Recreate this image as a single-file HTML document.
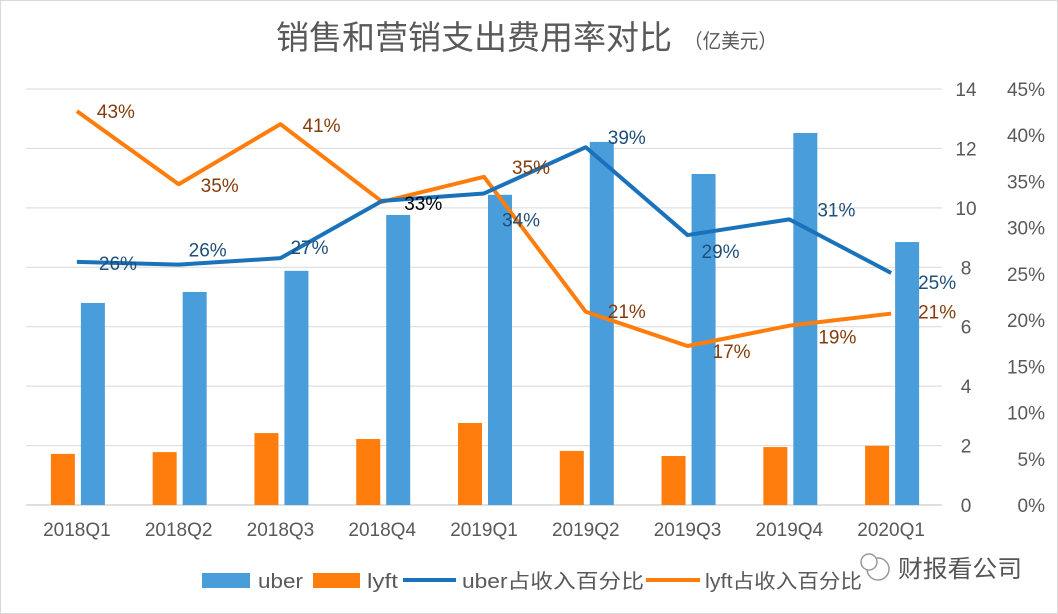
<!DOCTYPE html>
<html><head><meta charset="utf-8">
<style>
body{margin:0;background:#fff;}
svg{display:block;font-family:"Liberation Sans","Noto Sans CJK SC",sans-serif;}
</style></head>
<body>
<svg id="chart" width="1058" height="614" viewBox="0 0 1058 614">
<rect x="0.5" y="0.5" width="1057" height="613" fill="#fff" stroke="#d9d9d9"/>
<text x="276" y="49" font-size="33" fill="#595959" textLength="396" lengthAdjust="spacingAndGlyphs">销售和营销支出费用率对比</text>
<text x="684" y="48" font-size="20" fill="#595959" textLength="93" lengthAdjust="spacingAndGlyphs">（亿美元）</text>
<g id="grid"></g><g id="bars"></g><g id="lines"></g><g id="labels"></g>
<g>
<rect x="202" y="573" width="48" height="15" fill="#4a9ddb"/>
<text x="258" y="588" font-size="20" fill="#595959" textLength="45" lengthAdjust="spacingAndGlyphs">uber</text>
<rect x="313" y="573" width="47" height="15" fill="#ff7d0d"/>
<text x="367" y="588" font-size="20" fill="#595959" textLength="31" lengthAdjust="spacingAndGlyphs">lyft</text>
<line x1="403" y1="580" x2="456" y2="580" stroke="#1a72bb" stroke-width="4"/>
<text x="462" y="588" font-size="20" fill="#595959" textLength="182" lengthAdjust="spacingAndGlyphs">uber占收入百分比</text>
<line x1="646" y1="580" x2="700" y2="580" stroke="#ff7d0d" stroke-width="4"/>
<text x="705" y="588" font-size="20" fill="#595959" textLength="157" lengthAdjust="spacingAndGlyphs">lyft占收入百分比</text>
</g>
<g>
<circle cx="878" cy="569" r="11" fill="none" stroke="#999" stroke-width="1.5"/>
<circle cx="869" cy="562" r="8" fill="#fff" stroke="#999" stroke-width="1.5"/>
<text x="898" y="577" font-size="24" fill="#555" textLength="124" lengthAdjust="spacingAndGlyphs">财报看公司</text>
</g>
</svg>
<script>
const categories=["2018Q1","2018Q2","2018Q3","2018Q4","2019Q1","2019Q2","2019Q3","2019Q4","2020Q1"];
const uberValues=[6.8,7.17,7.88,9.76,10.44,12.22,11.14,12.52,8.85];
const lyftValues=[1.72,1.78,2.42,2.22,2.76,1.82,1.65,1.95,1.99];
const uberPct=[26,26,27,33,34,39,29,31,25];
const lyftPct=[43,35,41,33,35,21,17,19,21];
const uberPctPos=[26.3,26.0,26.7,32.9,33.7,38.7,29.2,30.9,25.1];
const lyftPctPos=[42.6,34.7,41.2,32.8,35.5,20.9,17.2,19.4,20.7];
const leftTicks=[0,2,4,6,8,10,12,14];
const rightTicks=[0,5,10,15,20,25,30,35,40,45];

const NS="http://www.w3.org/2000/svg";
const X0=26,X1=942,Y0=505,Y1=89;
const step=(X1-X0)/categories.length;
const xc=i=>X0+step*(i+0.5);
const yL=v=>Y0-(v/14)*(Y0-Y1);
const yR=v=>Y0-(v/45)*(Y0-Y1);
function mk(tag,attrs,parent){const e=document.createElementNS(NS,tag);for(const k in attrs)e.setAttribute(k,attrs[k]);parent.appendChild(e);return e;}
const grid=document.getElementById('grid'),bars=document.getElementById('bars'),lines=document.getElementById('lines'),labels=document.getElementById('labels');

leftTicks.forEach(v=>{
  const l=mk('line',{x1:X0,x2:X1,y1:yL(v),y2:yL(v),stroke:v===0?'#bfbfbf':'#d9d9d9','stroke-width':1},grid);
  
  
  const t=mk('text',{x:966,y:yL(v)+7,'text-anchor':'middle','font-size':19,fill:'#595959'},grid);
  t.textContent=v;
  
  
});
rightTicks.forEach(v=>{
  const t=mk('text',{x:1045,y:yR(v)+7,'text-anchor':'end','font-size':19,fill:'#595959'},grid);
  t.textContent=v+'%';
  
  
});
categories.forEach((c,i)=>{
  const t=mk('text',{x:xc(i),y:536,'text-anchor':'middle','font-size':19,fill:'#595959'},grid);
  t.textContent=c;
  
  
  const b1=mk('rect',{x:xc(i)-26,y:yL(lyftValues[i]),width:24,height:Y0-yL(lyftValues[i]),fill:'#ff7d0d'},bars);
  
  
  const b2=mk('rect',{x:xc(i)+4,y:yL(uberValues[i]),width:24,height:Y0-yL(uberValues[i]),fill:'#4a9ddb'},bars);
  
  
});
const lp=arr=>arr.map((v,i)=>xc(i)+','+yR(v)).join(' ');
const lyftLine=mk('polyline',{points:lp(lyftPctPos),fill:'none',stroke:'#ff7d0d','stroke-width':4,'stroke-linejoin':'round'},lines);


const uberLine=mk('polyline',{points:lp(uberPctPos),fill:'none',stroke:'#1a72bb','stroke-width':4,'stroke-linejoin':'round'},lines);



const uberOff=[[22,8],[10,-8],[10,-4],[22,9],[18,33],[22,-3],[14,23],[28,-3],[27,16]];
const lyftOff=[[20,7],[22,8],[22,8],[0,0],[28,-3],[22,6],[25,12],[29,18],[27,5]];
uberPct.forEach((v,i)=>{
  const t=mk('text',{x:xc(i)+uberOff[i][0],y:yR(uberPctPos[i])+uberOff[i][1],'font-size':19,fill:i===3?'#000':'#1f4e79'},labels);
  t.textContent=v+'%';
  
  
});
lyftPct.forEach((v,i)=>{
  if(i===3)return;
  const t=mk('text',{x:xc(i)+lyftOff[i][0],y:yR(lyftPctPos[i])+lyftOff[i][1],'font-size':19,fill:'#843c0c'},labels);
  t.textContent=v+'%';
  
  
});
</script>
</body></html>
